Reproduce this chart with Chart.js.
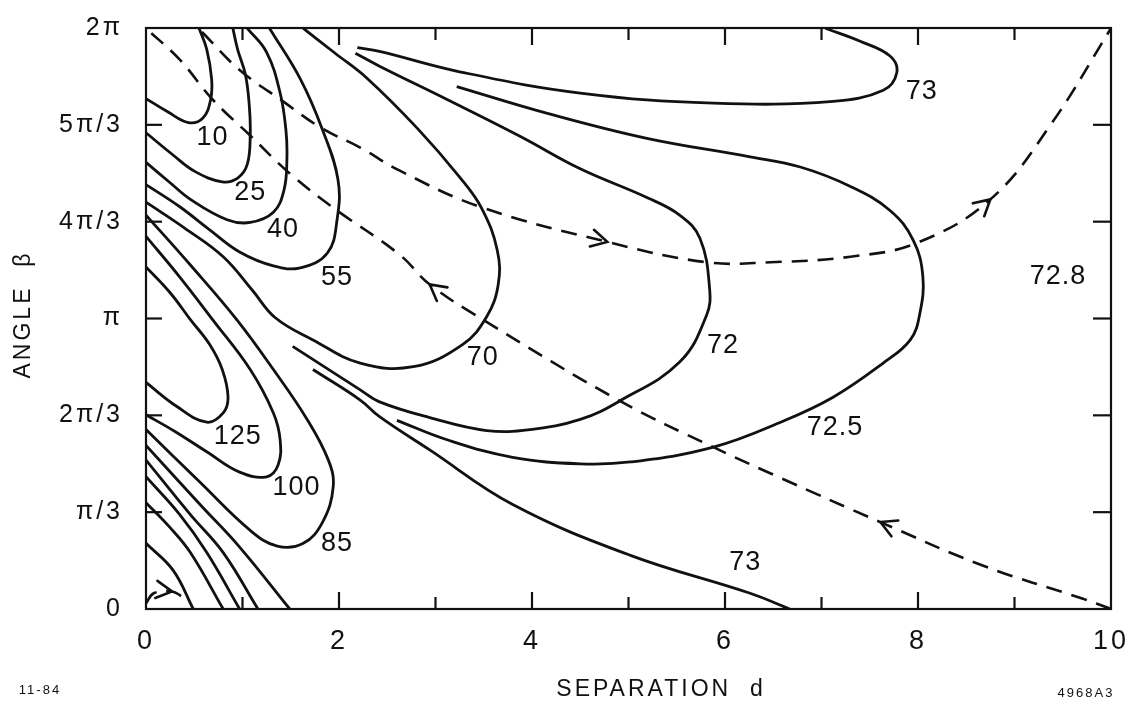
<!DOCTYPE html>
<html>
<head>
<meta charset="utf-8">
<script src="https://cdn.jsdelivr.net/npm/chart.js@4.4.1/dist/chart.umd.min.js"></script>
<style>
  html, body { margin: 0; padding: 0; background: #fff; }
  #wrap { width: 1130px; height: 706px; }
</style>
</head>
<body>
<div id="wrap"><canvas id="chart"></canvas></div>
<script>
const FONT = "'Liberation Sans', Helvetica, Arial, sans-serif";
const INK = '#111';

// points are [separation d, angle beta in radians]
const contour10 = [[0,5.52],[0.22,5.38],[0.44,5.26],[0.59,5.31],[0.67,5.51],[0.68,5.73],[0.63,6.05],[0.55,6.28]];
const contour25 = [[0,5.15],[0.28,4.91],[0.51,4.73],[0.79,4.62],[0.95,4.66],[1.05,4.81],[1.08,5.13],[1.07,5.45],[1.03,5.78],[0.95,6.05],[0.90,6.28]];
const contour40 = [[0,4.83],[0.25,4.61],[0.46,4.43],[0.84,4.21],[1.08,4.18],[1.32,4.29],[1.43,4.53],[1.46,4.86],[1.45,5.18],[1.39,5.58],[1.25,6.02],[1.05,6.28]];
const contour55 = [[0,4.59],[0.35,4.35],[0.66,4.10],[0.97,3.86],[1.32,3.71],[1.60,3.69],[1.88,3.85],[1.98,4.21],[1.99,4.64],[1.83,5.18],[1.60,5.73],[1.28,6.28]];
const contour70 = [[0,4.40],[0.40,4.12],[0.80,3.81],[1.10,3.45],[1.34,3.15],[1.73,2.91],[2.22,2.66],[2.77,2.62],[3.28,2.86],[3.53,3.16],[3.65,3.51],[3.64,3.88],[3.48,4.33],[3.25,4.67],[2.81,5.20],[2.29,5.74],[1.96,6.01],[1.63,6.28]];
const contour72 = [[1.52,2.84],[2.22,2.37],[2.42,2.24],[2.94,2.07],[3.53,1.93],[3.98,1.94],[4.50,2.05],[4.91,2.25],[5.53,2.67],[5.81,3.18],[5.84,3.47],[5.74,4.01],[5.53,4.26],[5.19,4.45],[4.50,4.76],[3.88,5.11],[3.12,5.51],[2.42,5.87],[2.17,6.01]];
const contour725 = [[2.60,2.04],[3.12,1.83],[3.80,1.64],[4.50,1.57],[5.02,1.59],[5.88,1.75],[6.60,2.03],[7.12,2.29],[7.64,2.66],[7.92,2.91],[8.02,3.20],[8.05,3.60],[7.95,3.99],[7.71,4.31],[7.30,4.57],[6.78,4.78],[6.26,4.89],[5.19,5.09],[4.16,5.36],[3.22,5.65]];
const contour73top = [[2.19,6.07],[2.42,6.03],[3.25,5.81],[4.50,5.58],[5.88,5.47],[7.12,5.49],[7.64,5.61],[7.78,5.80],[7.71,5.98],[7.40,6.14],[7.04,6.28]];
const contour73low = [[1.73,2.59],[2.22,2.26],[2.42,2.08],[2.94,1.72],[3.80,1.13],[5.02,0.58],[6.26,0.17],[6.67,0]];
const contour125 = [[0,3.70],[0.25,3.42],[0.46,3.13],[0.66,2.86],[0.79,2.59],[0.85,2.29],[0.80,2.12],[0.63,2.02],[0.32,2.19],[0,2.45]];
const contour100 = [[0,4.03],[0.35,3.59],[0.69,3.13],[1.08,2.59],[1.32,2.12],[1.39,1.83],[1.37,1.56],[1.25,1.43],[0.97,1.48],[0.63,1.70],[0.30,1.92],[0,2.10]];
const contour85 = [[0,4.26],[0.46,3.72],[0.94,3.13],[1.32,2.59],[1.67,2.05],[1.89,1.61],[1.94,1.32],[1.83,0.94],[1.63,0.71],[1.36,0.68],[1.08,0.85],[0.56,1.37],[0,1.94]];
const diag1 = [[0,1.77],[0.56,1.13],[0.97,0.67],[1.49,0]];
const diag2 = [[0,1.61],[0.46,1.02],[0.80,0.61],[1.16,0]];
const diag3 = [[0,1.43],[0.35,1.02],[0.63,0.61],[0.97,0]];
const diag4 = [[0,1.15],[0.25,0.88],[0.46,0.61],[0.80,0]];
const diag5 = [[0,0.71],[0.28,0.42],[0.49,0]];

// trajectories (dashed), listed in the direction of travel
const pathLower = [[10,0],[9.71,0.11],[8.67,0.47],[7.61,0.94],[6.57,1.42],[5.88,1.75],[4.91,2.25],[3.49,3.13],[2.94,3.51],[2.63,3.83],[1.94,4.34],[1.49,4.71],[1.08,5.12],[0.69,5.51],[0.35,5.94],[0,6.28]];
const pathUpper = [[0.58,6.24],[0.97,5.83],[1.42,5.49],[1.82,5.20],[2.22,4.99],[2.63,4.74],[3.46,4.35],[4.78,3.97],[5.81,3.75],[6.47,3.75],[7.30,3.81],[7.99,3.96],[8.75,4.43],[9.37,5.23],[10,6.28]];
const pathOrigin = [[0,0.06],[0.08,0.17],[0.27,0.19],[0.38,0.13]];

// arrowheads: [path, point index]
const arrowMarks = [[pathLower, 3], [pathLower, 8], [pathUpper, 7], [pathUpper, 12], [pathOrigin, 2]];

const contourLabels = [
  ['10', 0.69, 5.10], ['25', 1.08, 4.50], ['40', 1.42, 4.10], ['55', 1.98, 3.58],
  ['70', 3.49, 2.72], ['72', 5.98, 2.85], ['72.5', 7.14, 1.96], ['73', 8.04, 5.60],
  ['73', 6.21, 0.50], ['72.8', 9.45, 3.60], ['125', 0.95, 1.86], ['100', 1.56, 1.31], ['85', 1.98, 0.71]
];

const yTickLabels = ['0', 'π/3', '2π/3', 'π', '4π/3', '5π/3', '2π'];

const solid = [contour10, contour25, contour40, contour55, contour70, contour72, contour725,
  contour73top, contour73low, contour125, contour100, contour85, diag1, diag2, diag3, diag4, diag5];
const dashed = [pathLower, pathUpper, pathOrigin];

const toXY = pts => pts.map(([d, b]) => ({ x: d, y: b }));

const datasets = [
  ...solid.map(pts => ({ data: toXY(pts), borderColor: INK, borderWidth: 2.8, tension: 0.4 })),
  ...dashed.map(pts => ({ data: toXY(pts), borderColor: INK, borderWidth: 2.6, borderDash: [16, 10], tension: 0.4 }))
];

function seg(ctx, x1, y1, x2, y2) {
  ctx.beginPath(); ctx.moveTo(x1, y1); ctx.lineTo(x2, y2); ctx.stroke();
}

// box round the plot with inward ticks on all four sides
const framePlugin = {
  id: 'frame',
  beforeDraw(chart) {
    chart.ctx.letterSpacing = '3px';
  },
  afterDatasetsDraw(chart) {
    const { ctx, chartArea: a, scales: { x, y } } = chart;
    ctx.save();
    ctx.strokeStyle = INK;
    ctx.lineWidth = 2.2;
    ctx.strokeRect(a.left, a.top, a.width, a.height);
    for (let d = 1; d < 10; d++) {
      const px = x.getPixelForValue(d);
      const len = d % 2 ? 12 : 17;
      seg(ctx, px, a.bottom, px, a.bottom - len);
      seg(ctx, px, a.top, px, a.top + len);
    }
    for (let k = 1; k < 6; k++) {
      const py = y.getPixelForValue(k * Math.PI / 3);
      seg(ctx, a.left, py, a.left + 16, py);
      seg(ctx, a.right, py, a.right - 18, py);
    }
    ctx.restore();
  }
};

const arrowPlugin = {
  id: 'arrows',
  afterDatasetsDraw(chart) {
    const { ctx, scales: { x, y } } = chart;
    ctx.save();
    ctx.strokeStyle = INK;
    ctx.lineWidth = 2.6;
    ctx.lineCap = 'round';
    arrowMarks.forEach(([pts, i]) => {
      const p = pts[i], a = pts[Math.max(i - 1, 0)], b = pts[Math.min(i + 1, pts.length - 1)];
      const px = x.getPixelForValue(p[0]), py = y.getPixelForValue(p[1]);
      const ang = Math.atan2(y.getPixelForValue(b[1]) - y.getPixelForValue(a[1]),
                             x.getPixelForValue(b[0]) - x.getPixelForValue(a[0]));
      const L = 18, w = 0.5;
      ctx.beginPath();
      ctx.moveTo(px - L * Math.cos(ang - w), py - L * Math.sin(ang - w));
      ctx.lineTo(px, py);
      ctx.lineTo(px - L * Math.cos(ang + w), py - L * Math.sin(ang + w));
      ctx.stroke();
    });
    ctx.restore();
  }
};

const captionPlugin = {
  id: 'captions',
  afterDraw(chart) {
    const { ctx, chartArea: a, scales: { x, y } } = chart;
    ctx.save();
    ctx.fillStyle = INK;
    ctx.textAlign = 'center';
    ctx.textBaseline = 'middle';
    ctx.letterSpacing = '1px';
    ctx.font = `27px ${FONT}`;
    contourLabels.forEach(([t, d, b]) => ctx.fillText(t, x.getPixelForValue(d), y.getPixelForValue(b)));

    ctx.letterSpacing = '3px';
    ctx.font = `23px ${FONT}`;
    ctx.fillText('SEPARATION  d', 661, 690);
    ctx.save();
    ctx.translate(24, (a.top + a.bottom) / 2 - 4);
    ctx.rotate(-Math.PI / 2);
    ctx.fillText('ANGLE  β', 0, 0);
    ctx.restore();

    ctx.letterSpacing = '2px';
    ctx.font = `13px ${FONT}`;
    ctx.fillText('11-84', 40, 690);
    ctx.fillText('4968A3', 1086, 693);
    ctx.restore();
  }
};

new Chart(document.getElementById('chart'), {
  type: 'scatter',
  data: { datasets },
  options: {
    responsive: true,
    maintainAspectRatio: false,
    animation: false,
    showLine: true,
    elements: { point: { radius: 0, hoverRadius: 0 } },
    layout: { padding: { top: 28, right: 19, left: 0, bottom: 0 } },
    plugins: { legend: { display: false }, tooltip: { enabled: false } },
    scales: {
      x: {
        type: 'linear', min: 0, max: 10,
        grid: { display: false, drawTicks: false },
        border: { display: false },
        ticks: { stepSize: 2, padding: 16, color: INK, font: { family: FONT, size: 27 } },
        afterFit(s) { s.height = 97; s.paddingLeft = 0; s.paddingRight = 0; }
      },
      y: {
        type: 'linear', min: 0, max: 2 * Math.PI,
        grid: { display: false, drawTicks: false },
        border: { display: false },
        afterBuildTicks(s) { s.ticks = yTickLabels.map((_, i) => ({ value: i * Math.PI / 3 })); },
        ticks: {
          autoSkip: false, padding: 23, color: INK, font: { family: FONT, size: 25 },
          callback: (v, i) => yTickLabels[i]
        },
        afterFit(s) { s.width = 146; s.paddingTop = 0; s.paddingBottom = 0; }
      }
    }
  },
  plugins: [framePlugin, arrowPlugin, captionPlugin]
});
</script>
</body>
</html>
